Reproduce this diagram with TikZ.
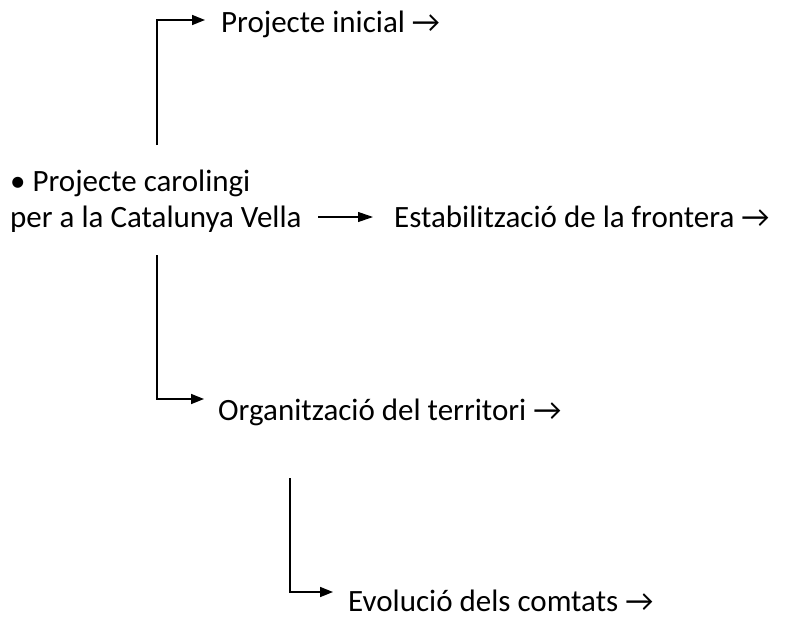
\documentclass[tikz,border=0pt]{standalone}
\usepackage{fontspec}
\setmainfont{Carlito}
\usetikzlibrary{arrows.meta,calc}
\begin{document}
\begin{tikzpicture}[x=1pt,y=-1pt,
  lbl/.style={anchor=base west,inner sep=0pt,font=\fontsize{31}{37}\selectfont},
  conn/.style={line width=1.6pt,-{Triangle[length=13pt,width=10pt]}},
  thin conn/.style={line width=1.1pt,-{Triangle[length=15pt,width=10pt]}}]
\useasboundingbox (0,0) rectangle (787,627);
\node[lbl] (t1) at (221,32) {Projecte inicial →};
\node[lbl] (m1) at (10,191) {• Projecte carolingi};
\node[lbl] (m2) at (10,227) {per a la Catalunya Vella};
\node[lbl] (t2) at (394,227) {Estabilització de la frontera →};
\node[lbl] (t3) at (218,420) {Organització del territori →};
\node[lbl] (t4) at (348,611) {Evolució dels comtats →};
\coordinate (c1) at (157,145);
\coordinate (c2) at (157,255);
\coordinate (c3) at (290,478);
\coordinate (e1) at (205,20);
\coordinate (e3) at (204,399);
\coordinate (e4) at (333,592);
\coordinate (a0) at (318,217);
\coordinate (a1) at (373,217);
\draw[conn] (c1) |- (e1);
\draw[conn] (c2) |- (e3);
\draw[conn] (c3) |- (e4);
\draw[thin conn] (a0) -- (a1);
\end{tikzpicture}
\end{document}
